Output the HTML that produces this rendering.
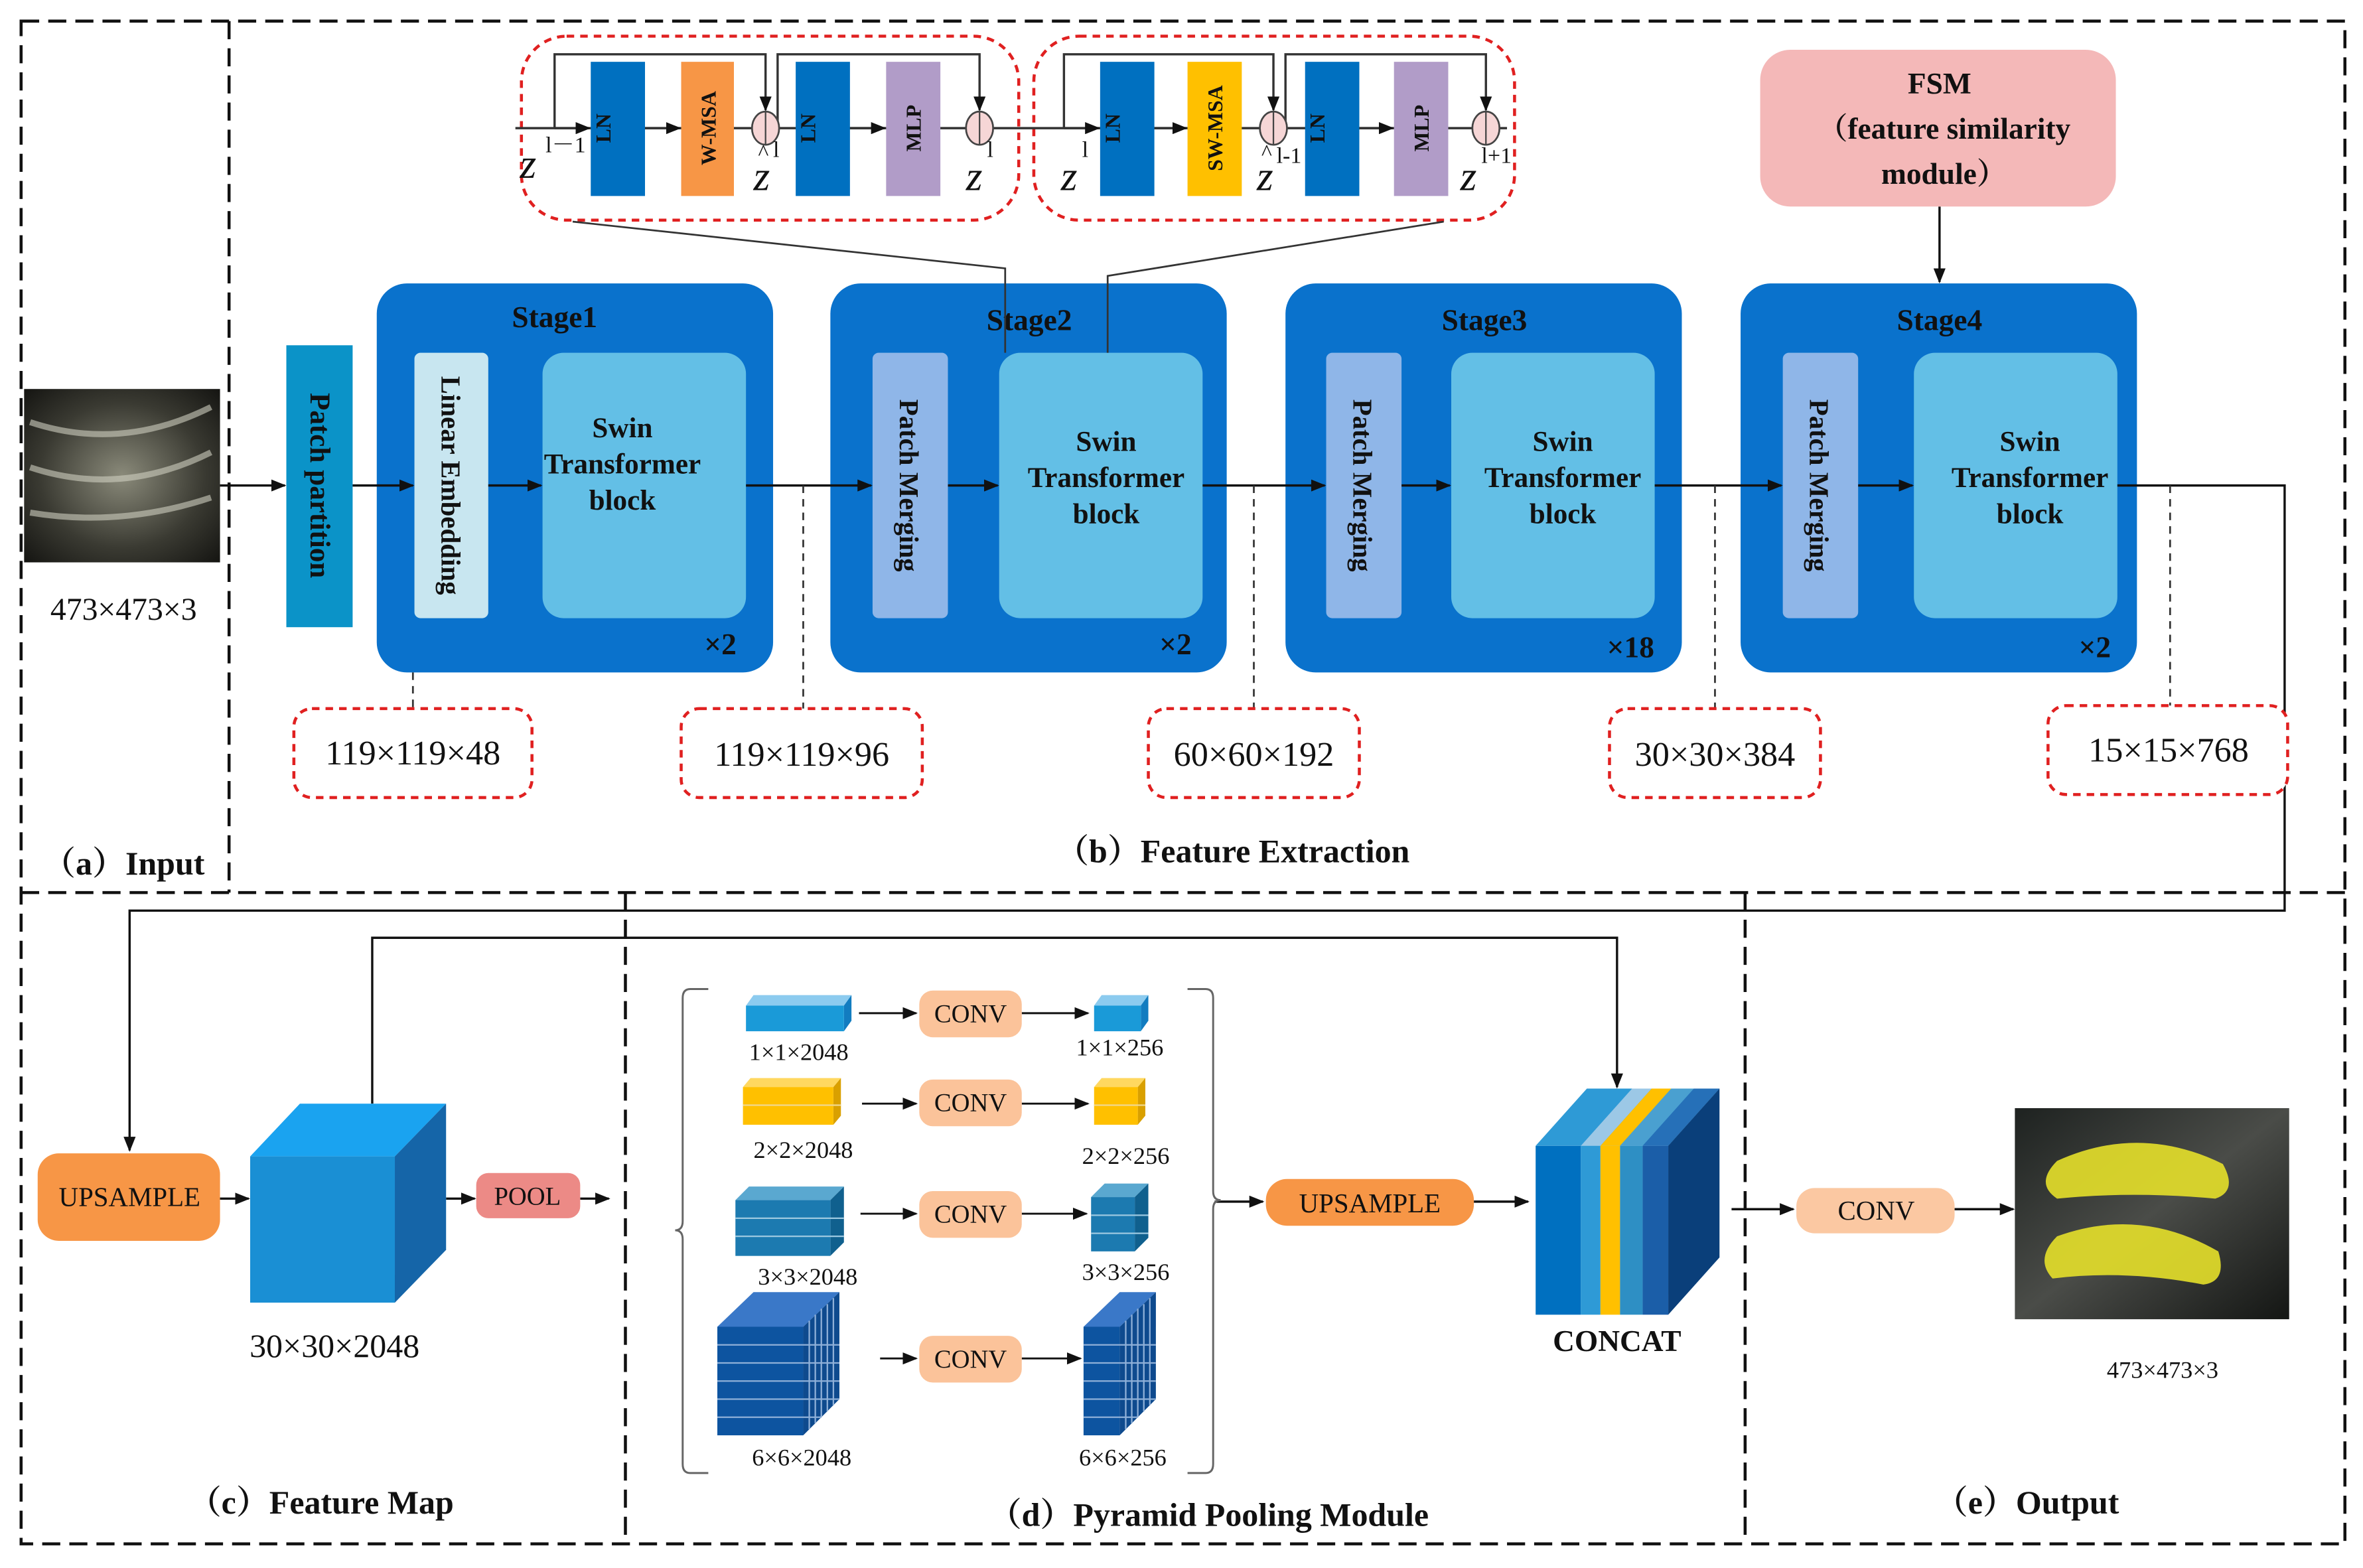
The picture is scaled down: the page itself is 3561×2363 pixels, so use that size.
<!DOCTYPE html>
<html><head><meta charset="utf-8"><style>
html,body{margin:0;padding:0;background:#fff;}
svg{display:block;}
text{font-family:"Liberation Serif","Noto Serif CJK SC",serif;fill:#111;}
.b{font-weight:bold;}
</style></head><body>
<svg width="3561" height="2363" viewBox="0 0 1568 1040" preserveAspectRatio="none" xmlns="http://www.w3.org/2000/svg">
<defs>
<marker id="ar" markerWidth="10" markerHeight="8" refX="9" refY="4" orient="auto" markerUnits="userSpaceOnUse"><path d="M0,0 L10,4 L0,8 z" fill="#111"/></marker>
<radialGradient id="img1" cx="0.5" cy="0.5" r="0.7"><stop offset="0" stop-color="#8a8a7a"/><stop offset="0.6" stop-color="#3a3a32"/><stop offset="1" stop-color="#151512"/></radialGradient>
<linearGradient id="img2" x1="0" y1="0" x2="1" y2="1"><stop offset="0" stop-color="#1e2220"/><stop offset="0.5" stop-color="#4a4c48"/><stop offset="1" stop-color="#141614"/></linearGradient>
</defs>
<rect width="1568" height="1040" fill="#fff"/>
<g fill="none" stroke="#111" stroke-width="2" stroke-dasharray="12,6">
<rect x="14" y="14" width="1542" height="1010"/>
<line x1="152" y1="14" x2="152" y2="592"/>
<line x1="14" y1="592" x2="1556" y2="592"/>
<line x1="415" y1="592" x2="415" y2="1024"/>
<line x1="1158" y1="592" x2="1158" y2="1024"/>
</g>
<rect x="16" y="258" width="130" height="115" fill="url(#img1)"/>
<path d="M20,280 Q80,300 140,270 M20,310 Q80,330 140,300 M20,340 Q80,350 140,330" stroke="#cfcfbf" stroke-width="4" fill="none" opacity="0.6"/>
<text x="82" y="411" font-size="21" text-anchor="middle">473×473×3</text>
<text x="82" y="580" font-size="22" text-anchor="middle" class="b">（a）Input</text>

<rect x="190" y="229" width="44" height="187" fill="#0b93c8"/>
<text transform="translate(206,322) rotate(90)" font-size="19" text-anchor="middle" class="b">Patch partition</text>

<g>
<rect x="250" y="188" width="263" height="258" rx="20" fill="#0a72cc"/>
<rect x="551" y="188" width="263" height="258" rx="20" fill="#0a72cc"/>
<rect x="853" y="188" width="263" height="258" rx="20" fill="#0a72cc"/>
<rect x="1155" y="188" width="263" height="258" rx="20" fill="#0a72cc"/>
</g>
<g font-size="20" class="b" text-anchor="middle">
<text x="368" y="217" class="b">Stage1</text>
<text x="683" y="219" class="b">Stage2</text>
<text x="985" y="219" class="b">Stage3</text>
<text x="1287" y="219" class="b">Stage4</text>
<text x="478" y="434" class="b">×2</text>
<text x="780" y="434" class="b">×2</text>
<text x="1082" y="436" class="b">×18</text>
<text x="1390" y="436" class="b">×2</text>
</g>
<rect x="275" y="234" width="49" height="176" rx="4" fill="#c8e6f0"/>
<text transform="translate(293,322) rotate(90)" font-size="18" text-anchor="middle" class="b">Linear Embedding</text>
<g fill="#8fb6e8">
<rect x="579" y="234" width="50" height="176" rx="4"/>
<rect x="880" y="234" width="50" height="176" rx="4"/>
<rect x="1183" y="234" width="50" height="176" rx="4"/>
</g>
<g font-size="18" text-anchor="middle" class="b">
<text transform="translate(597,322) rotate(90)" class="b">Patch Merging</text>
<text transform="translate(898,322) rotate(90)" class="b">Patch Merging</text>
<text transform="translate(1201,322) rotate(90)" class="b">Patch Merging</text>
</g>
<g fill="#63bfe6">
<rect x="360" y="234" width="135" height="176" rx="14"/>
<rect x="663" y="234" width="135" height="176" rx="14"/>
<rect x="963" y="234" width="135" height="176" rx="14"/>
<rect x="1270" y="234" width="135" height="176" rx="14"/>
</g>
<g font-size="19" text-anchor="middle" class="b">
<text x="413" y="290" class="b">Swin</text><text x="413" y="314" class="b">Transformer</text><text x="413" y="338" class="b">block</text>
<text x="734" y="299" class="b">Swin</text><text x="734" y="323" class="b">Transformer</text><text x="734" y="347" class="b">block</text>
<text x="1037" y="299" class="b">Swin</text><text x="1037" y="323" class="b">Transformer</text><text x="1037" y="347" class="b">block</text>
<text x="1347" y="299" class="b">Swin</text><text x="1347" y="323" class="b">Transformer</text><text x="1347" y="347" class="b">block</text>
</g>
<g stroke="#111" stroke-width="1.5" fill="none" marker-end="url(#ar)">
<line x1="146" y1="322" x2="189" y2="322"/>
<line x1="234" y1="322" x2="274" y2="322"/>
<line x1="324" y1="322" x2="359" y2="322"/>
<line x1="495" y1="322" x2="578" y2="322"/>
<line x1="629" y1="322" x2="662" y2="322"/>
<line x1="798" y1="322" x2="879" y2="322"/>
<line x1="930" y1="322" x2="962" y2="322"/>
<line x1="1098" y1="322" x2="1182" y2="322"/>
<line x1="1233" y1="322" x2="1269" y2="322"/>
<line x1="1287" y1="137" x2="1287" y2="187"/>
</g>
<polyline points="1405,322 1516,322 1516,604 86,604 86,763" stroke="#111" stroke-width="1.5" fill="none" marker-end="url(#ar)"/>
<polyline points="247,732 247,622 1073,622 1073,721" stroke="#111" stroke-width="1.5" fill="none" marker-end="url(#ar)"/>
<g stroke="#333" stroke-width="1.2" stroke-dasharray="5,4">
<line x1="274" y1="446" x2="274" y2="470"/>
<line x1="533" y1="322" x2="533" y2="470"/>
<line x1="832" y1="322" x2="832" y2="470"/>
<line x1="1138" y1="322" x2="1138" y2="470"/>
<line x1="1440" y1="322" x2="1440" y2="468"/>
</g>
<g fill="#fff" stroke="#e02020" stroke-width="2" stroke-dasharray="5,4">
<rect x="195" y="470" width="158" height="59" rx="12"/>
<rect x="452" y="470" width="160" height="59" rx="12"/>
<rect x="762" y="470" width="140" height="59" rx="12"/>
<rect x="1068" y="470" width="140" height="59" rx="12"/>
<rect x="1359" y="468" width="159" height="59" rx="12"/>
</g>
<g font-size="23" text-anchor="middle">
<text x="274" y="507">119×119×48</text>
<text x="532" y="508">119×119×96</text>
<text x="832" y="508">60×60×192</text>
<text x="1138" y="508">30×30×384</text>
<text x="1439" y="505">15×15×768</text>
</g>
<text x="818" y="572" font-size="22" text-anchor="middle" class="b">（b）Feature Extraction</text>

<g fill="none" stroke="#e02020" stroke-width="2" stroke-dasharray="5,4">
<rect x="346" y="24" width="330" height="122" rx="30"/>
<rect x="686" y="24" width="319" height="122" rx="30"/>
</g>
<polyline points="380,147 667,178 667,234" stroke="#333" stroke-width="1.2" fill="none"/>
<polyline points="958,147 735,183 735,234" stroke="#333" stroke-width="1.2" fill="none"/>
<g stroke="#333" stroke-width="1.5" fill="none">
<line x1="342" y1="85" x2="1000" y2="85"/>
<polyline points="368,85 368,36 508,36 508,73" marker-end="url(#ar)"/>
<polyline points="516,85 516,36 650,36 650,73" marker-end="url(#ar)"/>
<polyline points="706,85 706,36 845,36 845,73" marker-end="url(#ar)"/>
<polyline points="853,85 853,36 986,36 986,73" marker-end="url(#ar)"/>
<line x1="368" y1="85" x2="391" y2="85" marker-end="url(#ar)"/>
<line x1="428" y1="85" x2="451" y2="85" marker-end="url(#ar)"/>
<line x1="564" y1="85" x2="587" y2="85" marker-end="url(#ar)"/>
<line x1="706" y1="85" x2="729" y2="85" marker-end="url(#ar)"/>
<line x1="766" y1="85" x2="787" y2="85" marker-end="url(#ar)"/>
<line x1="902" y1="85" x2="924" y2="85" marker-end="url(#ar)"/>
</g>
<rect x="392" y="41" width="36" height="89" fill="#0070c0"/>
<rect x="452" y="41" width="35" height="89" fill="#f79646"/>
<rect x="528" y="41" width="36" height="89" fill="#0070c0"/>
<rect x="588" y="41" width="36" height="89" fill="#b19cc8"/>
<rect x="730" y="41" width="36" height="89" fill="#0070c0"/>
<rect x="788" y="41" width="36" height="89" fill="#ffc000"/>
<rect x="866" y="41" width="36" height="89" fill="#0070c0"/>
<rect x="925" y="41" width="36" height="89" fill="#b19cc8"/>
<g font-size="14" text-anchor="middle" class="b">
<text transform="translate(405,85) rotate(-90)" class="b">LN</text>
<text transform="translate(475,85) rotate(-90)" class="b">W-MSA</text>
<text transform="translate(541,85) rotate(-90)" class="b">LN</text>
<text transform="translate(611,85) rotate(-90)" class="b">MLP</text>
<text transform="translate(743,85) rotate(-90)" class="b">LN</text>
<text transform="translate(811,85) rotate(-90)" class="b">SW-MSA</text>
<text transform="translate(879,85) rotate(-90)" class="b">LN</text>
<text transform="translate(948,85) rotate(-90)" class="b">MLP</text>
</g>
<g fill="#f6d6d6" stroke="#444" stroke-width="1.2">
<ellipse cx="508" cy="85" rx="9" ry="11"/><ellipse cx="650" cy="85" rx="9" ry="11"/>
<ellipse cx="845" cy="85" rx="9" ry="11"/><ellipse cx="986" cy="85" rx="9" ry="11"/>
</g>
<g stroke="#444" stroke-width="1">
<line x1="508" y1="74" x2="508" y2="96"/><line x1="650" y1="74" x2="650" y2="96"/>
<line x1="845" y1="74" x2="845" y2="96"/><line x1="986" y1="74" x2="986" y2="96"/>
</g>
<g font-size="28" font-style="italic">
<text x="345" y="118">z</text>
<text x="500" y="126">z</text>
<text x="641" y="126">z</text>
<text x="704" y="126">z</text>
<text x="834" y="126">z</text>
<text x="969" y="126">z</text>
</g>
<g font-size="15">
<text x="362" y="101">l－1</text>
<text x="503" y="106">^</text><text x="513" y="104">l</text>
<text x="655" y="104">l</text>
<text x="718" y="104">l</text>
<text x="837" y="106">^</text><text x="847" y="108">l-1</text>
<text x="983" y="108">l+1</text>
</g>
<rect x="1168" y="33" width="236" height="104" rx="20" fill="#f4b8b8"/>
<g font-size="20" text-anchor="middle" class="b">
<text x="1287" y="62" class="b">FSM</text>
<text x="1290" y="92" class="b">（feature similarity</text>
<text x="1290" y="122" class="b">module）</text>
</g>

<rect x="25" y="765" width="121" height="58" rx="14" fill="#f79646"/>
<text x="86" y="800" font-size="18" text-anchor="middle">UPSAMPLE</text>
<g stroke="#111" stroke-width="1.5" marker-end="url(#ar)">
<line x1="146" y1="795" x2="165" y2="795"/>
<line x1="296" y1="795" x2="315" y2="795"/>
<line x1="385" y1="795" x2="404" y2="795"/>
<line x1="806" y1="797" x2="838" y2="797"/>
<line x1="978" y1="797" x2="1014" y2="797"/>
<line x1="1149" y1="802" x2="1190" y2="802"/>
<line x1="1297" y1="802" x2="1336" y2="802"/>
</g>
<polygon points="166,767 199,732 296,732 262,767" fill="#1aa3f0"/>
<polygon points="262,767 296,732 296,829 262,864" fill="#1565a8"/>
<rect x="166" y="767" width="96" height="97" fill="#1a8fd4"/>
<text x="222" y="900" font-size="22" text-anchor="middle">30×30×2048</text>
<rect x="316" y="778" width="69" height="30" rx="8" fill="#ec8a86"/>
<text x="350" y="799" font-size="17" text-anchor="middle">POOL</text>
<text x="213" y="1004" font-size="22" text-anchor="middle" class="b">（c）Feature Map</text>

<path d="M470,656 L458,656 Q453,656 453,662 L453,810 Q453,816 448,816 Q453,816 453,822 L453,971 Q453,977 458,977 L470,977" stroke="#666" stroke-width="1.3" fill="none"/>
<path d="M788,656 L800,656 Q805,656 805,662 L805,790 Q805,796 810,796 Q805,796 805,802 L805,971 Q805,977 800,977 L788,977" stroke="#666" stroke-width="1.3" fill="none"/>
<polygon points="495,667 500,660 565,660 560,667" fill="#8ccbef"/>
<polygon points="560,667 565,660 565,677 560,684" fill="#127cc0"/>
<rect x="495" y="667" width="65" height="17" fill="#1a9ad8"/>
<polygon points="726,667 731,660 762,660 757,667" fill="#8ccbef"/>
<polygon points="757,667 762,660 762,677 757,684" fill="#127cc0"/>
<rect x="726" y="667" width="31" height="17" fill="#1a9ad8"/>
<polygon points="493,721 498,715 558,715 553,721" fill="#ffd860"/>
<polygon points="553,721 558,715 558,740 553,746" fill="#d9a000"/>
<rect x="493" y="721" width="60" height="25" fill="#ffc000"/>
<line x1="493" y1="733" x2="558" y2="733" stroke="#f0d890" stroke-width="1"/>
<polygon points="726,721 731,715 760,715 755,721" fill="#ffd860"/>
<polygon points="755,721 760,715 760,740 755,746" fill="#d9a000"/>
<rect x="726" y="721" width="29" height="25" fill="#ffc000"/>
<line x1="726" y1="733" x2="760" y2="733" stroke="#f0d890" stroke-width="1"/>
<polygon points="488,796 497,787 560,787 551,796" fill="#5aa8d0"/>
<polygon points="551,796 560,787 560,824 551,833" fill="#10608e"/>
<rect x="488" y="796" width="63" height="37" fill="#1c7ab0"/>
<g stroke="#9cc8e0" stroke-width="1"><line x1="488" y1="808" x2="560" y2="808"/><line x1="488" y1="820" x2="560" y2="820"/></g>
<polygon points="724,794 733,785 762,785 753,794" fill="#5aa8d0"/>
<polygon points="753,794 762,785 762,821 753,830" fill="#10608e"/>
<rect x="724" y="794" width="29" height="36" fill="#1c7ab0"/>
<g stroke="#9cc8e0" stroke-width="1"><line x1="724" y1="806" x2="762" y2="806"/><line x1="724" y1="818" x2="762" y2="818"/></g>
<polygon points="476,880 500,857 557,857 533,880" fill="#3a78c8"/>
<polygon points="533,880 557,857 557,928 533,952" fill="#0e4a8e"/>
<rect x="476" y="880" width="57" height="72" fill="#0d54a0"/>
<g stroke="#8fb0d8" stroke-width="1">
<line x1="476" y1="892" x2="557" y2="892"/><line x1="476" y1="904" x2="557" y2="904"/><line x1="476" y1="916" x2="557" y2="916"/><line x1="476" y1="928" x2="557" y2="928"/><line x1="476" y1="940" x2="545" y2="940"/>
<line x1="537" y1="876" x2="537" y2="948"/><line x1="541" y1="872" x2="541" y2="944"/><line x1="545" y1="868" x2="545" y2="940"/><line x1="549" y1="865" x2="549" y2="936"/><line x1="553" y1="861" x2="553" y2="932"/>
</g>
<polygon points="719,880 743,857 767,857 743,880" fill="#3a78c8"/>
<polygon points="743,880 767,857 767,928 743,952" fill="#0e4a8e"/>
<rect x="719" y="880" width="24" height="72" fill="#0d54a0"/>
<g stroke="#8fb0d8" stroke-width="1">
<line x1="719" y1="892" x2="767" y2="892"/><line x1="719" y1="904" x2="767" y2="904"/><line x1="719" y1="916" x2="767" y2="916"/><line x1="719" y1="928" x2="767" y2="928"/><line x1="719" y1="940" x2="755" y2="940"/>
<line x1="747" y1="876" x2="747" y2="948"/><line x1="751" y1="872" x2="751" y2="944"/><line x1="755" y1="868" x2="755" y2="940"/><line x1="759" y1="865" x2="759" y2="936"/><line x1="763" y1="861" x2="763" y2="932"/>
</g>
<g stroke="#111" stroke-width="1.3" marker-end="url(#ar)">
<line x1="570" y1="672" x2="608" y2="672"/><line x1="678" y1="672" x2="722" y2="672"/>
<line x1="572" y1="732" x2="608" y2="732"/><line x1="678" y1="732" x2="722" y2="732"/>
<line x1="571" y1="805" x2="608" y2="805"/><line x1="678" y1="805" x2="721" y2="805"/>
<line x1="584" y1="901" x2="608" y2="901"/><line x1="678" y1="901" x2="717" y2="901"/>
</g>
<g fill="#fbc39a">
<rect x="610" y="657" width="68" height="31" rx="9"/>
<rect x="610" y="716" width="68" height="31" rx="9"/>
<rect x="610" y="790" width="68" height="31" rx="9"/>
<rect x="610" y="886" width="68" height="31" rx="9"/>
</g>
<g font-size="17" text-anchor="middle">
<text x="644" y="678">CONV</text><text x="644" y="737">CONV</text><text x="644" y="811">CONV</text><text x="644" y="907">CONV</text>
</g>
<g font-size="16" text-anchor="middle">
<text x="530" y="703">1×1×2048</text><text x="743" y="700">1×1×256</text>
<text x="533" y="768">2×2×2048</text><text x="747" y="772">2×2×256</text>
<text x="536" y="852">3×3×2048</text><text x="747" y="849">3×3×256</text>
<text x="532" y="972">6×6×2048</text><text x="745" y="972">6×6×256</text>
</g>
<text x="802" y="1012" font-size="22" text-anchor="middle" class="b">（d）Pyramid Pooling Module</text>

<rect x="840" y="782" width="138" height="31" rx="14" fill="#f79646"/>
<text x="909" y="804" font-size="18" text-anchor="middle">UPSAMPLE</text>
<polygon points="1019,760 1053,722 1141,722 1107,760" fill="#2e9ad6"/>
<polygon points="1049,760 1083,722 1096,722 1062,760" fill="#9cc8e6"/>
<polygon points="1062,760 1096,722 1109,722 1075,760" fill="#ffc000"/>
<polygon points="1075,760 1109,722 1124,722 1090,760" fill="#4aa0d0"/>
<polygon points="1090,760 1124,722 1141,722 1107,760" fill="#2670b8"/>
<polygon points="1107,760 1141,722 1141,834 1107,872" fill="#0a3f7a"/>
<rect x="1019" y="760" width="30" height="112" fill="#0070c0"/>
<rect x="1049" y="760" width="13" height="112" fill="#2e9ad6"/>
<rect x="1062" y="760" width="13" height="112" fill="#ffc000"/>
<rect x="1075" y="760" width="15" height="112" fill="#2e8fc4"/>
<rect x="1090" y="760" width="17" height="112" fill="#1b5ea8"/>
<text x="1073" y="896" font-size="20" text-anchor="middle" class="b">CONCAT</text>

<rect x="1192" y="788" width="105" height="30" rx="12" fill="#fbc8a2"/>
<text x="1245" y="809" font-size="18" text-anchor="middle">CONV</text>
<rect x="1337" y="735" width="182" height="140" fill="url(#img2)"/>
<path d="M1365,770 Q1420,745 1475,772 Q1485,790 1470,795 Q1415,790 1365,795 Q1350,785 1365,770 z" fill="#e6e02a" opacity="0.9"/>
<path d="M1365,820 Q1420,800 1472,830 Q1478,850 1462,852 Q1410,842 1362,848 Q1350,835 1365,820 z" fill="#e6e02a" opacity="0.9"/>
<text x="1435" y="914" font-size="16" text-anchor="middle">473×473×3</text>
<text x="1345" y="1004" font-size="22" text-anchor="middle" class="b">（e）Output</text>
</svg>
</body></html>
